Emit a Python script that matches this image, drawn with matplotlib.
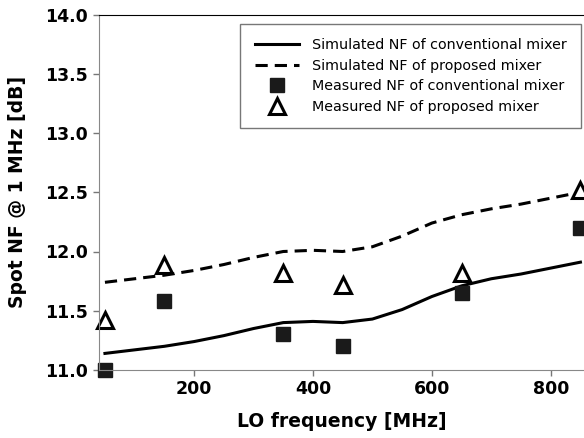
import matplotlib.pyplot as plt

# LO frequency [MHz] and spot NF [dB]
freq_sim = [50, 100, 150, 200, 250, 300, 350, 400, 450, 500, 550, 600, 650, 700, 750, 800, 850]
nf_sim_conv = [11.14, 11.17, 11.20, 11.24, 11.29, 11.35, 11.40, 11.41, 11.40, 11.43, 11.51,
               11.62, 11.71, 11.77, 11.81, 11.86, 11.91]
nf_sim_prop = [11.74, 11.77, 11.80, 11.84, 11.89, 11.95, 12.00, 12.01, 12.00, 12.04, 12.13,
               12.24, 12.31, 12.36, 12.40, 12.45, 12.50]

freq_meas = [50, 150, 350, 450, 650, 850]
nf_meas_conv = [11.00, 11.58, 11.30, 11.20, 11.65, 12.20]
nf_meas_prop = [11.42, 11.89, 11.82, 11.72, 11.82, 12.52]

plt.rcParams['font.family'] = ['DejaVu Sans']

fig = plt.figure(figsize=(5.84, 4.38), dpi=100)
ax = fig.add_axes([99 / 584, 68 / 438, 485 / 584, 355.5 / 438])

ax.plot(freq_sim, nf_sim_conv, color='black', linewidth=2.2,
        label='Simulated NF of conventional mixer')
ax.plot(freq_sim, nf_sim_prop, color='black', linewidth=2.2, dashes=(4, 2.3),
        label='Simulated NF of proposed mixer')
ax.plot(freq_meas, nf_meas_conv, linestyle='none', marker='s', markersize=10.5,
        color='#1a1a1a', clip_on=False, label='Measured NF of conventional mixer')
ax.plot(freq_meas, nf_meas_prop, linestyle='none', marker='^', markersize=11.5,
        markerfacecolor='white', markeredgecolor='black', markeredgewidth=2.2,
        clip_on=False, label='Measured NF of proposed mixer')

ax.set_xlim(40, 856)
ax.set_ylim(11.0, 14.0)
ax.set_xticks([200, 400, 600, 800])
ax.set_yticks([11.0, 11.5, 12.0, 12.5, 13.0, 13.5, 14.0])
ax.set_yticklabels(['11.0', '11.5', '12.0', '12.5', '13.0', '13.5', '14.0'])

for lab in ax.get_xticklabels() + ax.get_yticklabels():
    lab.set_fontweight('bold')
    lab.set_fontsize(12.5)
ax.tick_params(axis='both', colors='#777777', labelcolor='black', length=4, width=1)
ax.tick_params(axis='y', pad=4)

ax.spines['right'].set_visible(False)
ax.spines['left'].set_color('#888888')
ax.spines['bottom'].set_color('#888888')
ax.spines['top'].set_color('black')
ax.spines['top'].set_linewidth(0.8)

ax.set_xlabel('LO frequency [MHz]', fontsize=13.5, fontweight='bold', labelpad=10)
ax.set_ylabel('Spot NF @ 1 MHz [dB]', fontsize=13.5, fontweight='bold', labelpad=13)

leg = ax.legend(loc='upper right', fontsize=10.3, frameon=True,
                fancybox=False, edgecolor='#555555', handlelength=3.1,
                borderpad=1.0, labelspacing=0.45, handletextpad=0.9,
                borderaxespad=0)
leg.get_frame().set_linewidth(1.0)
leg.set_bbox_to_anchor((581 / 584, 1 - 24 / 438), transform=fig.transFigure)

plt.savefig('out.png', dpi=100)
